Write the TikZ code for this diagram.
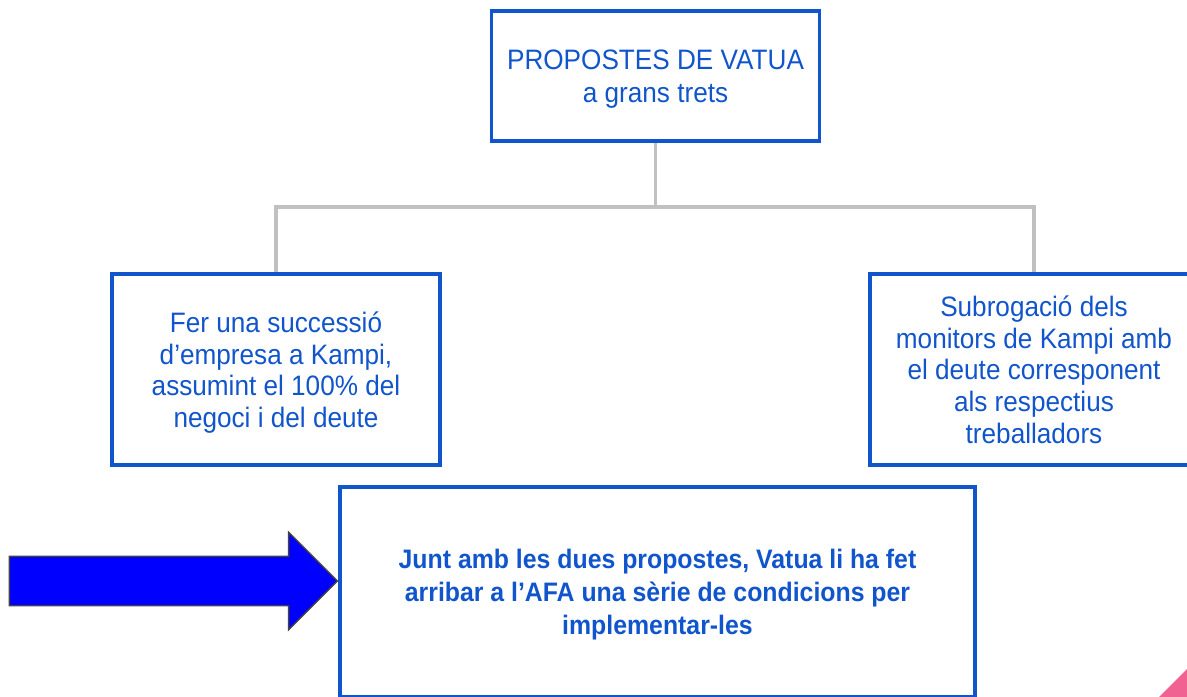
\documentclass[tikz,border=0pt]{standalone}
\usepackage{fontspec}
\setmainfont[FakeStretch=0.93]{Liberation Sans}
\usetikzlibrary{shapes.arrows}
\definecolor{vblue}{HTML}{1155CC}
\definecolor{vgray}{HTML}{C0C0C0}
\definecolor{vpink}{HTML}{F06292}
\definecolor{vedge}{HTML}{434343}
\begin{document}
\begin{tikzpicture}[scale=1,
  box/.style={draw=vblue, line width=0.95pt, text=vblue, align=center, inner sep=0pt, text depth=0pt, font=\fontsize{8}{9}\selectfont},
  link/.style={draw=vgray, line width=1pt},
  bigarrow/.style={single arrow, draw=vedge, fill=blue, line width=0.4pt, single arrow head extend=0.24cm, single arrow head indent=0pt, minimum height=3.28cm, minimum width=0.96cm, inner xsep=0pt, inner ysep=0.24cm}]
\useasboundingbox (0,0) rectangle (11.87,-6.96);
\node[box, font=\fontsize{8}{9.4}\selectfont, minimum width=3.28cm, minimum height=1.30cm] (top) at (6.555,-0.76) {PROPOSTES DE VATUA\\a grans trets};
\node[box, minimum width=3.28cm, minimum height=1.91cm] (left) at (2.76,-3.695) {Fer una successió\\d’empresa a Kampi,\\assumint el 100\% del\\negoci i del deute};
\node[box, minimum width=3.28cm, minimum height=1.91cm] (right) at (10.34,-3.695) {Subrogació dels\\monitors de Kampi amb\\el deute corresponent\\als respectius\\treballadors};
\node[box, font=\fontsize{7.6}{9.3}\selectfont\bfseries, minimum width=6.35cm, minimum height=2.10cm] (result) at (6.575,-5.92) {Junt amb les dues propostes, Vatua li ha fet\\arribar a l’AFA una sèrie de condicions per\\implementar-les};
\coordinate (fork) at (6.555,-2.07);
\draw[link] (top.south) -- (fork) -| (left.north);
\draw[link] (fork) -| (right.north);
\node[bigarrow, anchor=tip] (arrow) at ([yshift=0.11cm]result.west) {};
\fill[vpink] (11.58,-6.98) -- (11.89,-6.67) -- (11.89,-6.98) -- cycle;
\end{tikzpicture}
\end{document}
